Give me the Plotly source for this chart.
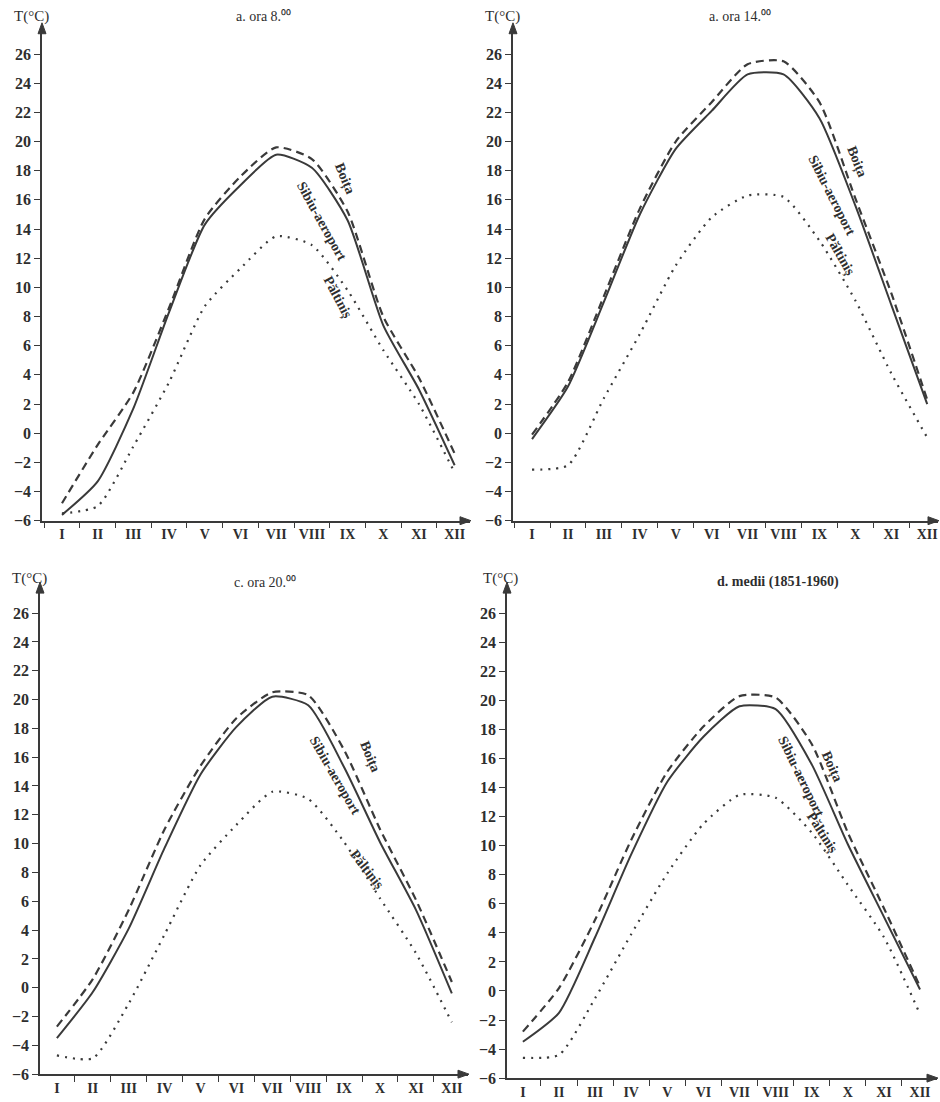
import plotly.graph_objects as go

W, H = 940, 1102

months = ["I", "II", "III", "IV", "V", "VI", "VII", "VIII", "IX", "X", "XI", "XII"]
month_idx = list(range(1, 13))
y_ticks = list(range(-6, 27, 2))

# a. ora 8
sibiu_8 = [-5.6, -3.3, 1.7, 8.3, 14.3, 17.0, 19.1, 18.2, 14.6, 7.4, 3.0, -2.2]
boita_8 = [-4.8, -0.8, 2.8, 8.6, 14.7, 17.6, 19.6, 18.8, 15.2, 8.0, 3.8, -1.4]
paltinis_8 = [-5.5, -5.0, -0.9, 3.5, 8.7, 11.3, 13.5, 12.9, 9.8, 5.7, 2.0, -2.7]
# a. ora 14
sibiu_14 = [-0.4, 3.2, 9.0, 15.0, 19.5, 22.1, 24.6, 24.6, 21.6, 15.6, 8.8, 2.0]
boita_14 = [-0.1, 3.5, 9.4, 15.4, 20.0, 22.7, 25.3, 25.5, 22.7, 16.1, 9.6, 2.3]
paltinis_14 = [-2.5, -2.2, 2.4, 6.8, 11.5, 14.8, 16.3, 16.2, 13.2, 9.1, 4.1, -0.3]
# c. ora 20
sibiu_20 = [-3.5, -0.3, 4.1, 9.7, 14.8, 18.1, 20.2, 19.6, 15.3, 10.1, 5.4, -0.4]
boita_20 = [-2.7, 0.6, 5.4, 11.0, 15.4, 18.7, 20.5, 20.3, 16.5, 11.0, 6.1, 0.4]
paltinis_20 = [-4.7, -4.9, -1.1, 3.7, 8.5, 11.3, 13.6, 13.1, 10.1, 6.2, 2.4, -2.4]
# d. medii
sibiu_m = [-3.5, -1.5, 3.7, 9.4, 14.4, 17.5, 19.6, 19.4, 15.6, 10.1, 5.1, 0.1]
boita_m = [-2.8, 0.2, 4.9, 10.4, 15.1, 18.2, 20.3, 20.2, 17.0, 10.9, 5.7, 0.3]
paltinis_m = [-4.6, -4.4, -0.5, 3.9, 8.1, 11.5, 13.5, 13.3, 10.9, 7.3, 3.7, -1.6]

titles = ["a. ora 8.⁰⁰", "a. ora 14.⁰⁰", "c. ora 20.⁰⁰", "d. medii (1851-1960)"]
title_weights = ["normal", "normal", "normal", "bold"]
names = ["Sibiu-aeroport", "Boița", "Păltiniș"]

panels = [
    (sibiu_8, boita_8, paltinis_8),
    (sibiu_14, boita_14, paltinis_14),
    (sibiu_20, boita_20, paltinis_20),
    (sibiu_m, boita_m, paltinis_m),
]

# pixel geometry of each panel: (x0, x1, ytop, ybottom, xrange)
geom = [
    (42, 470, 28, 525, [0.44, 12.43]),
    (513, 938, 28, 525, [0.47, 12.30]),
    (40, 468, 592, 1083, [0.53, 12.45]),
    (507, 937, 592, 1087, [0.56, 12.47]),
]
YR = [-6, 27.8]

INK = "#3a3a3a"
TXT = "#2e2e2e"
SERIF = "Liberation Serif"

def px(x, y):
    return x / W, 1 - y / H

fig = go.Figure()
layout = {}
annotations = []
shapes = []

styles = [
    dict(color=INK, width=2.0, dash="solid"),
    dict(color=INK, width=2.2, dash="8px,5px"),
    dict(color=INK, width=2.2, dash="2px,6px"),
]

def tri(points):
    p = []
    for k, (x, y) in enumerate(points):
        xp, yp = px(x, y)
        p.append(("M" if k == 0 else "L") + f"{xp:.5f},{yp:.5f}")
    return " ".join(p) + " Z"

for i, (series, (x0, x1, yt, yb, xr)) in enumerate(zip(panels, geom)):
    n = "" if i == 0 else str(i + 1)
    for s, name, st in zip(series, names, styles):
        fig.add_trace(go.Scatter(
            x=month_idx, y=s, mode="lines", name=name, showlegend=False,
            line=dict(color=st["color"], width=st["width"], dash=st["dash"],
                      shape="spline", smoothing=0.6),
            xaxis="x" + n, yaxis="y" + n))
    layout["xaxis" + n] = dict(
        domain=[x0 / W, x1 / W], range=xr, anchor="y" + n,
        tickmode="array", tickvals=month_idx, ticktext=months,
        ticks="", showgrid=False, zeroline=False,
        showline=True, linecolor=INK, linewidth=1.5,
        tickfont=dict(family=SERIF, size=14, color=TXT, weight="bold"),
        minor=dict(tick0=0.5, dtick=1, ticks="outside", ticklen=6,
                   tickcolor=INK, tickwidth=1.2, showgrid=False),
        fixedrange=True)
    layout["yaxis" + n] = dict(
        domain=[1 - yb / H, 1 - yt / H], range=YR, anchor="x" + n,
        tickmode="array", tickvals=y_ticks, ticks="outside", ticklen=6,
        tickcolor=INK, tickwidth=1.2, showgrid=False, zeroline=False,
        showline=True, linecolor=INK, linewidth=1.5,
        tickfont=dict(family=SERIF, size=16, color=TXT, weight="bold"),
        fixedrange=True)
    # arrow heads (axis decoration)
    shapes.append(dict(type="path", xref="paper", yref="paper", layer="above",
                       path=tri([(x0, yt - 5), (x0 - 4, yt + 6), (x0 + 4, yt + 6)]),
                       fillcolor=INK, line=dict(color=INK, width=1)))
    shapes.append(dict(type="path", xref="paper", yref="paper", layer="above",
                       path=tri([(x1 + 1, yb), (x1 - 10, yb - 4), (x1 - 10, yb + 4)]),
                       fillcolor=INK, line=dict(color=INK, width=1)))

# titles & axis labels
title_pos = [(263, 17), (740, 17), (265, 587), (778, 587)]
tlabel_pos = [(31, 17), (502, 17), (30, 583), (500, 583)]
for t, wgt, (tx, ty), (lx, ly) in zip(titles, title_weights, title_pos, tlabel_pos):
    xp, yp = px(tx, ty)
    annotations.append(dict(xref="paper", yref="paper", x=xp, y=yp, text=t,
                            showarrow=False, xanchor="center", yanchor="middle",
                            font=dict(family=SERIF, size=14, color=TXT, weight=wgt)))
    xp, yp = px(lx, ly)
    annotations.append(dict(xref="paper", yref="paper", x=xp, y=yp, text="T(°C)",
                            showarrow=False, xanchor="center", yanchor="middle",
                            font=dict(family=SERIF, size=15, color=TXT)))

# rotated curve labels: (text, x px, y px, angle)
curve_labels = [
    ("Boița", 345, 180, 68), ("Sibiu-aeroport", 322, 223, 61), ("Păltiniș", 338, 300, 62),
    ("Boița", 857, 163, 68), ("Sibiu-aeroport", 832, 197, 63), ("Păltiniș", 840, 257, 60),
    ("Boița", 370, 763, 68), ("Sibiu-aeroport", 335, 782, 60), ("Păltiniș", 367, 877, 52),
    ("Boița", 832, 773, 66), ("Sibiu-aeroport", 801, 783, 64), ("Păltiniș", 822, 840, 57),
]
for txt, lx, ly, ang in curve_labels:
    xp, yp = px(lx, ly)
    annotations.append(dict(xref="paper", yref="paper", x=xp, y=yp, text=txt,
                            showarrow=False, textangle=ang,
                            xanchor="center", yanchor="middle",
                            font=dict(family=SERIF, size=14, color=TXT, weight="bold")))

fig.update_layout(
    width=W, height=H, margin=dict(l=0, r=0, t=0, b=0),
    paper_bgcolor="white", plot_bgcolor="rgba(0,0,0,0)",
    annotations=annotations, shapes=shapes, **layout)

fig.write_html("out.html")
